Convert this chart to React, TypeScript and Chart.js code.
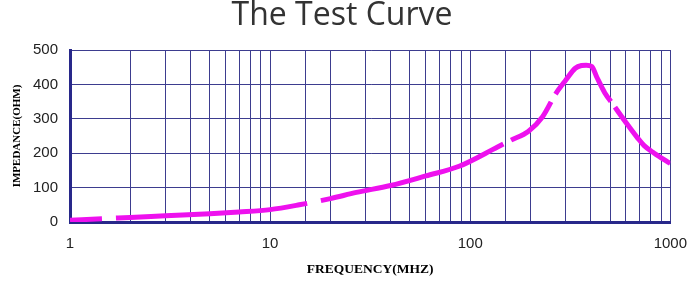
import React, { useEffect, useRef } from "react";
import { Chart, registerables } from "chart.js";

Chart.register(...registerables);

const TITLE = "The Test Curve";
const X_TITLE = "FREQUENCY(MHZ)";
const Y_TITLE = "IMPEDANCE(OHM)";

const frequency = [1, 1.5, 2, 3, 5, 7, 10, 14, 20, 27, 40, 60, 88, 137, 160, 195, 230, 267, 300, 335, 360, 380, 405, 430, 470, 520, 572, 613, 687, 740, 831, 1000];
const impedance = [5, 10, 13, 18, 24, 29, 36, 50, 68, 86, 106, 134, 162, 218, 238, 263, 306, 372, 412, 447, 455, 456, 452, 420, 376, 340, 306, 282, 244, 222, 200, 170];

const X_MIN = 1;
const X_MAX = 1000;
const Y_MIN = 0;
const Y_MAX = 500;
const Y_STEP = 100;
const X_LABELS = [1, 10, 100, 1000];

export default function App() {
  const ref = useRef<HTMLCanvasElement | null>(null);

  useEffect(() => {
    if (!ref.current) return;
    const points = frequency.map((f, i) => ({ x: f, y: impedance[i] }));
    const grid = "#3d3d8f";
    const chart = new Chart(ref.current, {
      type: "line",
      data: {
        datasets: [
          {
            data: points,
            borderColor: "#ee11ee",
            borderWidth: 5,
            pointRadius: 0,
            cubicInterpolationMode: "monotone",
            borderCapStyle: "butt",
            borderDash: [192, 14],
            borderDashOffset: 160,
            segment: {
              borderDash: (ctx: any) => (ctx.p0.parsed.x >= 160 ? [57, 9, 90, 7, 300, 10] : undefined),
              borderDashOffset: (ctx: any) => (ctx.p0.parsed.x >= 160 ? 0 : undefined),
            },
          },
        ],
      },
      options: {
        animation: false,
        responsive: false,
        parsing: false as any,
        layout: { padding: { left: 8, right: 24, top: 0, bottom: 0 } },
        plugins: {
          legend: { display: false },
          tooltip: { enabled: false },
          title: {
            display: true,
            text: TITLE,
            color: "#333333",
            font: { family: "'Open Sans', sans-serif", size: 32, weight: "normal", lineHeight: 1 },
            padding: { top: 0, bottom: 18 },
          },
        },
        scales: {
          x: {
            type: "logarithmic",
            min: X_MIN,
            max: X_MAX,
            afterFit: (s: any) => {
              s.height = 63;
            },
            grid: { color: grid, lineWidth: 1, drawTicks: false },
            border: { display: true, color: "#28288a", width: 3 },
            ticks: {
              autoSkip: false,
              maxRotation: 0,
              padding: 13,
              color: "#222222",
              font: { family: "'Liberation Sans', sans-serif", size: 15 },
              callback: (v: any) => (X_LABELS.includes(Number(v)) ? String(v) : ""),
            },
            title: {
              display: true,
              text: X_TITLE,
              color: "#000000",
              font: { family: "'Liberation Serif', serif", size: 13.5, weight: "bold" },
              padding: { top: 0, bottom: 7 },
            },
          },
          y: {
            min: Y_MIN,
            max: Y_MAX,
            afterFit: (s: any) => {
              s.width = 62;
            },
            grid: { color: grid, lineWidth: 1, drawTicks: false },
            border: { display: true, color: "#28288a", width: 3 },
            ticks: {
              stepSize: Y_STEP,
              padding: 12,
              color: "#222222",
              font: { family: "'Liberation Sans', sans-serif", size: 15 },
            },
            title: {
              display: true,
              text: Y_TITLE,
              color: "#000000",
              font: { family: "'Liberation Serif', serif", size: 11, weight: "bold" },
              padding: { top: 3, bottom: 0 },
            },
          },
        },
      },
    });
    return () => chart.destroy();
  }, []);

  return (
    <div style={{ position: "fixed", left: 0, top: 0, width: 700, height: 285, background: "#ffffff" }}>
      <canvas ref={ref} width={700} height={285} style={{ display: "block" }} />
    </div>
  );
}
